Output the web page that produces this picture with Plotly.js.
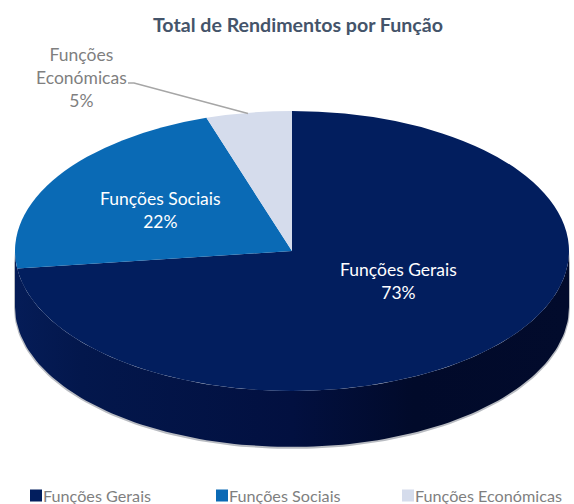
<!DOCTYPE html>
<html><head><meta charset="utf-8">
<script src="https://cdn.plot.ly/plotly-3.0.1.min.js"></script>
<style>html,body{margin:0;padding:0;background:#fff}</style></head>
<body><div id="chart" style="width:574px;height:504px"></div>
<script>
var categories = ["Funções Gerais", "Funções Sociais", "Funções Económicas"];
var values = [73, 22, 5];
var sliceColors = ["#021e5e", "#0a6ab5", "#d5dcec"];
var titleText = "Total de Rendimentos por Função";
var FONT = "Lato, 'Open Sans', sans-serif";

// Geometry of the tilted disc, in page pixels
var cx = 292, cy = 251, rx = 277, ry = 140, depth = 56;

function arc(a0, a1, dy, grow) {
  var xs = [], ys = [], n = 120;
  for (var i = 0; i <= n; i++) {
    var t = a0 + (a1 - a0) * i / n;
    xs.push(cx + (rx + (grow || 0)) * Math.cos(t));
    ys.push(cy + dy + (ry + (grow || 0)) * Math.sin(t));
  }
  return {x: xs, y: ys};
}
var upper = arc(0, Math.PI, 0), lower = arc(Math.PI, 0, depth);
var shadowUpper = arc(0, Math.PI, 0, 1), shadowLower = arc(Math.PI, 0, depth + 1, 1);

var traces = [
  {type: "scatter", mode: "lines", x: shadowUpper.x.concat(shadowLower.x), y: shadowUpper.y.concat(shadowLower.y),
   fill: "toself", fillcolor: "#b9bcc2", line: {width: 0}, showlegend: false, hoverinfo: "skip"},
  {type: "scatter", mode: "lines", x: upper.x.concat(lower.x), y: upper.y.concat(lower.y),
   fill: "toself", line: {width: 0}, showlegend: false, hoverinfo: "skip",
   fillgradient: {type: "horizontal", colorscale: [[0, "#051c57"], [0.12, "#03174c"], [0.5, "#021040"], [0.72, "#010a2a"], [1, "#020b2c"]]}},
  {type: "pie", labels: categories, values: values, sort: false, direction: "clockwise", rotation: 0,
   marker: {colors: sliceColors, line: {width: 0}}, textinfo: "none", domain: {x: [0, 1], y: [0, 1]}, hoverinfo: "label+percent"}
];

function label(x, y, color, lines) {
  return {x: x, y: y, xref: "x", yref: "y", showarrow: false, align: "center", xanchor: "center", yanchor: "middle",
    text: lines.join("<br>"), font: {family: FONT, size: 17.5, color: color}};
}
var pct = values.map(function (v) { return v + "%"; });
var layout = {
  width: 574, height: 504, margin: {l: 0, r: 0, t: 0, b: 0, autoexpand: false},
  paper_bgcolor: "#fff", plot_bgcolor: "#fff",
  title: {text: "<b>" + titleText + "</b>", x: 298 / 574, xanchor: "center", y: 1 - 25 / 504, yanchor: "middle",
          font: {family: FONT, size: 19.6, color: "#44546a"}},
  xaxis: {range: [0, 574], visible: false, fixedrange: true},
  yaxis: {range: [504, 0], visible: false, fixedrange: true},
  showlegend: true,
  legend: {orientation: "h", x: 16 / 574, xanchor: "left", y: 1 - 496 / 504, yanchor: "middle",
           entrywidth: 141, entrywidthmode: "pixels", itemclick: false, itemdoubleclick: false, traceorder: "normal",
           font: {family: FONT, size: 16.2, color: "#7f7f7f"}, bgcolor: "rgba(0,0,0,0)"},
  shapes: [{type: "path", xref: "x", yref: "y", path: "M128,83 L134,83 L248,113.5", line: {color: "#a6a6a6", width: 1.5}}],
  annotations: [
    label(398, 281, "#ffffff", [categories[0], pct[0]]),
    label(160, 210, "#ffffff", [categories[1], pct[1]]),
    label(81, 77.5, "#7f7f7f", ["Funções", "Económicas", pct[2]])
  ]
};
Plotly.newPlot("chart", traces, layout, {displayModeBar: false}).then(function (gd) {
  // Plotly pies are round: tilt the pie layer into the ellipse of the reference.
  var sx = rx / 252, sy = ry / 252;
  gd.querySelector(".pielayer").setAttribute("transform",
    "translate(" + cx + "," + cy + ") scale(" + sx + "," + sy + ") translate(-287,-252)");
  // Close the gap between each legend swatch and its text, as in the reference.
  gd.querySelectorAll(".legend .legendtext").forEach(function (t) {
    t.setAttribute("x", parseFloat(t.getAttribute("x")) - 13);
  });
});
</script></body></html>
